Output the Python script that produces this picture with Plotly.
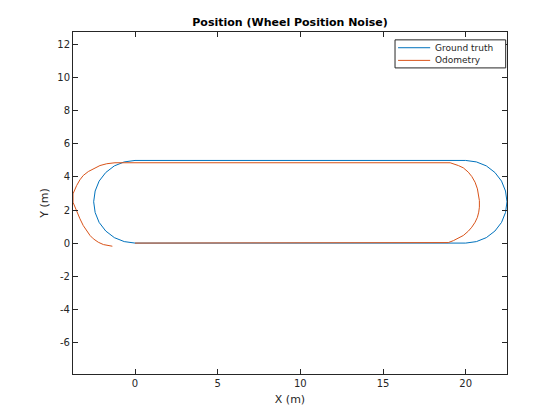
import plotly.graph_objects as go

# ground truth track
gt_x = [0, 20, 20.65, 21.25, 21.77, 22.17, 22.41, 22.5, 22.41, 22.17, 21.77, 21.25, 20.65, 20,
        0, -0.65, -1.25, -1.77, -2.17, -2.41, -2.5, -2.41, -2.17, -1.77, -1.25, -0.65, 0]
gt_y = [0, 0, 0.09, 0.33, 0.73, 1.25, 1.85, 2.5, 3.15, 3.75, 4.27, 4.67, 4.91, 5,
        5, 4.91, 4.67, 4.27, 3.75, 3.15, 2.5, 1.85, 1.25, 0.73, 0.33, 0.09, 0]

# odometry estimate
odo_x = [0, 18.95, 19.26, 19.56, 19.86, 20.16, 20.37, 20.57, 20.71, 20.79, 20.83, 20.83, 20.79,
         20.71, 20.57, 20.37, 20.16, 19.86, 19.56, 19.26, 19.06,
         -1.21, -1.71, -2.12, -2.52, -2.82, -3.13, -3.33, -3.53, -3.63, -3.75, -3.75, -3.63,
         -3.53, -3.33, -3.13, -2.92, -2.72, -2.52, -2.22, -1.91, -1.61, -1.37]
odo_y = [0, 0.03, 0.15, 0.29, 0.46, 0.72, 0.96, 1.26, 1.56, 1.87, 2.17, 2.57, 2.88,
         3.28, 3.68, 4.03, 4.29, 4.55, 4.69, 4.8, 4.86,
         4.86, 4.8, 4.69, 4.49, 4.33, 4.09, 3.83, 3.48, 3.28, 2.98, 2.47, 2.17,
         1.87, 1.47, 1.06, 0.76, 0.46, 0.26, 0.05, -0.09, -0.15, -0.19]

y_ticks = [-6, -4, -2, 0, 2, 4, 6, 8, 10, 12]
y_ticktext = ["-6", "-4", "-2", "0", "2", "4", "6", "8", "10", "12"]

names = ["Ground truth", "Odometry"]
colors = ["#0072BD", "#D95319"]

ink = "#262626"
fig = go.Figure()
fig.add_trace(go.Scatter(x=gt_x, y=gt_y, mode="lines", name=names[0],
                         line=dict(color=colors[0], width=1)))
fig.add_trace(go.Scatter(x=odo_x, y=odo_y, mode="lines", name=names[1],
                         line=dict(color=colors[1], width=1)))

axis_style = dict(showline=True, linecolor=ink, linewidth=1, mirror="ticks",
                  ticks="inside", ticklen=5, tickcolor=ink, showgrid=False,
                  zeroline=False, tickfont=dict(size=10, color=ink))
fig.update_xaxes(range=[-3.75, 22.5], dtick=5, tick0=0,
                 title=dict(text="X (m)", font=dict(size=11, color=ink), standoff=7),
                 **axis_style)
fig.update_yaxes(range=[-7.92, 12.77], tickvals=y_ticks, ticktext=y_ticktext,
                 title=dict(text="Y (m)", font=dict(size=11, color=ink), standoff=6),
                 **axis_style)

# MATLAB-style compact legend box
fig.add_shape(type="rect", xref="paper", yref="paper", x0=0.742, x1=0.997, y0=0.895, y1=0.977,
              line=dict(color=ink, width=1), fillcolor="white", layer="above")
for i, (nm, col) in enumerate(zip(names, colors)):
    yy = 0.954 - i * 0.037
    fig.add_shape(type="line", xref="paper", yref="paper", x0=0.749, x1=0.823, y0=yy, y1=yy,
                  line=dict(color=col, width=1), layer="above")
    fig.add_annotation(text=nm, xref="paper", yref="paper", x=0.829, y=yy,
                       xanchor="left", yanchor="middle", showarrow=False,
                       font=dict(size=9, color=ink))

# page body adds an 8px offset, so margins are shifted by -8
fig.update_layout(
    width=560, height=420, template="none",
    paper_bgcolor="white", plot_bgcolor="white",
    font=dict(family="DejaVu Sans", color=ink),
    margin=dict(l=65, r=61, t=24, b=54),
    title=dict(text="<b>Position (Wheel Position Noise)</b>", x=0.5036, xanchor="center",
               y=0.967, yanchor="middle", yref="container", font=dict(size=11, color="black")),
    showlegend=False,
)
fig.write_html("out.html")
